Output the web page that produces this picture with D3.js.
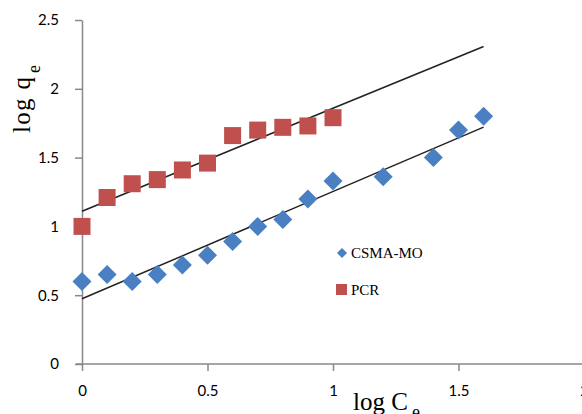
<!DOCTYPE html>
<html><head><meta charset="utf-8">
<script src="https://cdn.jsdelivr.net/npm/d3@7"></script>
<style>body{margin:0;background:#fff}svg{display:block}</style>
</head><body>
<svg id="c" width="582" height="414"></svg>
<script>
const csmaX = [0,0.1,0.2,0.3,0.4,0.5,0.6,0.7,0.8,0.9,1.0,1.2,1.4,1.5,1.6];
const csmaY = [0.6,0.65,0.6,0.65,0.72,0.79,0.89,1.0,1.05,1.2,1.33,1.36,1.5,1.7,1.8];
const pcrX = [0,0.1,0.2,0.3,0.4,0.5,0.6,0.7,0.8,0.9,1.0];
const pcrY = [1.0,1.21,1.31,1.34,1.41,1.46,1.66,1.70,1.72,1.73,1.79];
const xTicks = [0,0.5,1,1.5,2];
const yTicks = [0,0.5,1,1.5,2,2.5];
const trendEnd = 1.6;
const seriesNames = ["CSMA-MO","PCR"];

const svg = d3.select("#c");
const x = d3.scaleLinear().domain([0,2]).range([82,584]);
const y = d3.scaleLinear().domain([0,2.5]).range([364,20]);
const axisColor = "#888";
const tickFont = "Lato, 'Open Sans', sans-serif";

// axes
const xa = svg.append("g").attr("transform",`translate(0,${y(0)})`)
  .call(d3.axisBottom(x).tickValues(xTicks).tickSize(7).tickSizeOuter(0).tickFormat(d=>String(d)));
xa.select(".domain").remove();
xa.append("line").attr("x1",76).attr("x2",582).attr("stroke",axisColor).attr("stroke-width",1.5);
xa.selectAll(".tick line").attr("stroke",axisColor).attr("stroke-width",1.5);
xa.selectAll(".tick text").attr("font-family",tickFont).attr("font-size",15).attr("fill","#000").attr("dy","1.45em");

const ya = svg.append("g").attr("transform",`translate(${x(0)},0)`)
  .call(d3.axisLeft(y).tickValues(yTicks).tickSize(7).tickSizeOuter(0).tickFormat(d=>String(d)));
ya.select(".domain").attr("stroke",axisColor).attr("stroke-width",1.5);
ya.selectAll(".tick line").attr("stroke",axisColor).attr("stroke-width",1.5);
ya.selectAll(".tick text").attr("font-family",tickFont).attr("font-size",15).attr("fill","#000").attr("x",-23);

// regression
function fit(xs, ys){
  const mx=d3.mean(xs), my=d3.mean(ys);
  let sxy=0,sxx=0;
  xs.forEach((v,i)=>{sxy+=(v-mx)*(ys[i]-my);sxx+=(v-mx)*(v-mx);});
  const b=sxy/sxx; return {b, a:my-b*mx};
}
[[csmaX,csmaY],[pcrX,pcrY]].forEach(([xs,ys])=>{
  const f=fit(xs,ys);
  svg.append("line").attr("x1",x(0)).attr("y1",y(f.a)).attr("x2",x(trendEnd)).attr("y2",y(f.a+f.b*trendEnd))
    .attr("stroke","#222").attr("stroke-width",1.5);
});

const blue="#4a7fc1", red="#c0504d";
const diamond = s => `M0,${-s}L${s},0L0,${s}L${-s},0Z`;
svg.append("g").selectAll("path").data(csmaX).join("path")
  .attr("d",diamond(9.5)).attr("fill",blue)
  .attr("transform",(d,i)=>`translate(${x(d)},${y(csmaY[i])})`);
svg.append("g").selectAll("rect").data(pcrX).join("rect")
  .attr("x",d=>x(d)-8.5).attr("y",(d,i)=>y(pcrY[i])-8.5).attr("width",17).attr("height",17).attr("fill",red);

// legend
const serif="'Liberation Serif','Times New Roman',serif";
svg.append("path").attr("d",diamond(5)).attr("fill",blue).attr("transform","translate(342,253)");
svg.append("text").attr("x",351).attr("y",258).attr("font-family",serif).attr("font-size",15).text(seriesNames[0]);
svg.append("rect").attr("x",336).attr("y",284).attr("width",11).attr("height",11).attr("fill",red);
svg.append("text").attr("x",351).attr("y",295).attr("font-family",serif).attr("font-size",15).text(seriesNames[1]);

// axis titles
const yg = svg.append("g").attr("transform","translate(30,133) rotate(-90)");
yg.append("text").attr("font-family",serif).attr("font-size",25)
  .attr("textLength",56).attr("lengthAdjust","spacing").text("log q");
yg.append("text").attr("x",60).attr("y",10).attr("font-family",serif).attr("font-size",18).text("e");
const xg = svg.append("g").attr("transform","translate(353,410)");
xg.append("text").attr("font-family",serif).attr("font-size",25)
  .attr("textLength",55).attr("lengthAdjust","spacing").text("log C");
xg.append("text").attr("x",59).attr("y",8).attr("font-family",serif).attr("font-size",18).text("e");
</script>
</body></html>
